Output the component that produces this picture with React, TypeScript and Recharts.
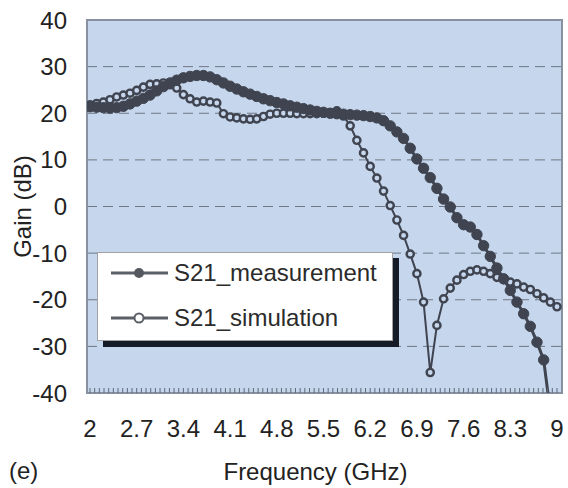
import { LineChart, Line, XAxis, YAxis, CartesianGrid, ReferenceArea } from 'recharts';

const FONT = '"Liberation Sans", Arial, sans-serif';
const INK = '#3f4450';
const PLOT_BG = '#c6d6ec';
const FRAME = '#8791a0';

// sweep: 2.0 GHz upward in 0.1 GHz steps
const FREQ_START = 2;
const FREQ_STEP = 0.1;

// S21 measured (dB), 2.0 .. 8.9 GHz
const measurementDb = [
  21.4, 21.3, 21.2, 21.1, 21.2, 21.5, 22.0, 22.6, 23.2, 23.9,
  24.8, 25.7, 26.5, 27.1, 27.6, 27.9, 28.1, 28.1, 27.8, 27.2,
  26.5, 25.8, 25.2, 24.6, 24.1, 23.6, 23.1, 22.7, 22.3, 22.0,
  21.6, 21.3, 21.0, 20.7, 20.4, 20.2, 20.0, 19.9, 19.8, 19.7,
  19.6, 19.5, 19.3, 19.0, 18.4, 17.3, 16.0, 14.6, 12.5, 10.2,
  8.2, 6.2, 3.9, 1.6, -0.1, -2.4, -3.9, -4.4, -6.0, -8.4,
  -10.7, -13.2, -15.5, -18.0, -20.5, -23.0, -25.7, -29.1, -32.9, -44,
];

// S21 simulated (dB), 2.0 .. 9.0 GHz
const simulationDb = [
  21.8, 22.1, 22.4, 22.9, 23.5, 23.9, 24.3, 24.9, 25.6, 26.2,
  26.3, 26.5, 26.1, 25.4, 24.0, 23.1, 22.4, 22.6, 22.4, 22.2,
  19.9, 19.2, 19.0, 18.8, 18.7, 18.8, 19.3, 19.8, 20.0, 20.0,
  20.0, 19.9, 19.9, 19.9, 19.9, 20.0, 20.1, 20.5, 19.4, 17.3,
  14.2, 11.5, 8.6, 6.1, 3.3, 0.2, -2.9, -6.2, -10.2, -14.4,
  -20.5, -35.6, -25.5, -19.8, -17.5, -15.8, -14.6, -13.9, -13.6, -13.9,
  -14.4, -15.2, -15.7, -16.2, -16.6, -17.3, -17.8, -18.7, -19.6, -20.5,
  -21.5,
];

const freqLabels = [2, 2.7, 3.4, 4.1, 4.8, 5.5, 6.2, 6.9, 7.6, 8.3, 9];
const gainTicks = [-40, -30, -20, -10, 0, 10, 20, 30, 40];
// small tick every 0.07 GHz, labels on every 10th
const minorFreqTicks = Array.from({ length: 101 }, (_, i) => +(2 + i * 0.07).toFixed(2));

const chartData = simulationDb.map((sim, i) => ({
  freq: +(FREQ_START + i * FREQ_STEP).toFixed(2),
  meas: measurementDb[i],
  sim,
}));

function LegendBox() {
  const rows = [
    { name: 'S21_measurement', filled: true, top: 0 },
    { name: 'S21_simulation', filled: false, top: 45 },
  ];
  return (
    <div
      style={{
        position: 'absolute',
        left: 97,
        top: 252,
        width: 294,
        height: 87,
        background: '#fff',
        border: '1px solid #a3a3a3',
        boxShadow: '6px 6px 0 #151b27',
      }}
    >
      {rows.map((r) => (
        <div key={r.name} style={{ position: 'absolute', left: 0, top: r.top, height: 42, width: '100%' }}>
          <svg width={72} height={42} style={{ position: 'absolute', left: 0, top: 0 }}>
            <line x1={13} y1={20} x2={70} y2={20} stroke="#5b5f67" strokeWidth={3} />
            {r.filled ? (
              <circle cx={41} cy={20} r={5} fill="#55595f" />
            ) : (
              <circle cx={41} cy={20} r={4.5} fill="#fff" stroke="#5b5f67" strokeWidth={2} />
            )}
          </svg>
          <span
            style={{
              position: 'absolute',
              left: 76,
              top: 5,
              fontSize: 24,
              lineHeight: '30px',
              color: '#2b2b2b',
              whiteSpace: 'nowrap',
            }}
          >
            {r.name}
          </span>
        </div>
      ))}
    </div>
  );
}

export default function App() {
  return (
    <div
      style={{
        position: 'absolute',
        left: 0,
        top: 0,
        width: 568,
        height: 488,
        background: '#fff',
        fontFamily: FONT,
      }}
    >
      <LineChart width={568} height={488} data={chartData} margin={{ top: 20, right: 6, bottom: 0, left: 0 }}>
        <CartesianGrid
          vertical={false}
          fill={PLOT_BG}
          stroke="#6f7786"
          strokeDasharray="10 6"
          strokeWidth={1}
        />
        <XAxis
          dataKey="freq"
          type="number"
          domain={[1.955, 9.075]}
          allowDataOverflow
          ticks={minorFreqTicks}
          interval={0}
          tickFormatter={(v: number) => (freqLabels.includes(v) ? String(v) : '')}
          axisLine={false}
          tickSize={-5}
          tickLine={{ stroke: '#5f6a7a', strokeWidth: 1 }}
          tickMargin={32}
          height={95}
          tick={{ fontSize: 24, fill: '#222', fontFamily: FONT }}
          label={{
            value: 'Frequency (GHz)',
            position: 'insideBottom',
            offset: 8,
            dx: -9,
            style: { fontSize: 24, fill: '#222', fontFamily: FONT },
          }}
        />
        <YAxis
          type="number"
          domain={[-40, 40]}
          allowDataOverflow
          ticks={gainTicks}
          interval={0}
          width={87}
          axisLine={false}
          tickLine={false}
          tickSize={0}
          tickMargin={20}
          tick={{ fontSize: 24, fill: '#222', fontFamily: FONT }}
          label={{
            value: 'Gain (dB)',
            angle: -90,
            position: 'insideLeft',
            offset: 22,
            style: { fontSize: 24, fill: '#222', fontFamily: FONT, textAnchor: 'middle' },
          }}
        />
        <ReferenceArea
          x1={1.955}
          x2={9.075}
          y1={-40}
          y2={40}
          fill="none"
          fillOpacity={0}
          stroke={FRAME}
          strokeWidth={2}
        />
        <Line
          dataKey="sim"
          stroke={INK}
          strokeWidth={2}
          dot={{ r: 3.6, fill: PLOT_BG, stroke: INK, strokeWidth: 2.4 }}
          isAnimationActive={false}
        />
        <Line
          dataKey="meas"
          stroke={INK}
          strokeWidth={3}
          dot={{ r: 5.2, fill: INK, stroke: INK, strokeWidth: 1 }}
          isAnimationActive={false}
        />
      </LineChart>
      <LegendBox />
      <div style={{ position: 'absolute', left: 9, top: 457, fontSize: 24, color: '#222' }}>(e)</div>
    </div>
  );
}
